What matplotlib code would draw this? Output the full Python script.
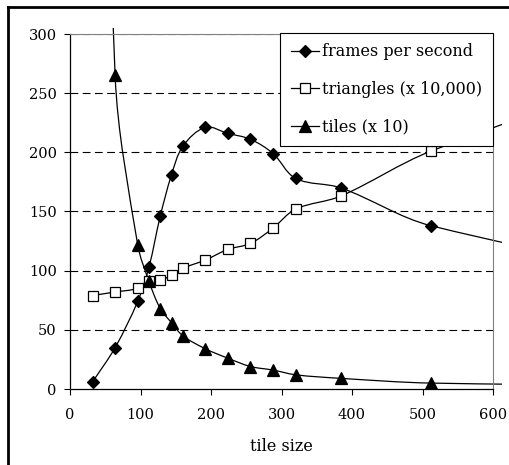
import numpy as np
import matplotlib.pyplot as plt
from matplotlib.path import Path
from matplotlib.patches import PathPatch, Rectangle
from matplotlib.lines import Line2D

# data (points past the visible range only shape the smoothed lines)
tile_size = [32, 64, 96, 112, 128, 144, 160, 192, 224, 256, 288, 320, 384, 512, 1024]
fps = [6, 35, 74, 103, 146, 181, 205, 221, 216, 211, 199, 178, 170, 138, 75]
triangles = [79, 82, 85, 91, 92, 96, 102, 109, 118, 123, 136, 152, 163, 201, 310]
tiles = [1060, 265, 122, 91, 68, 56, 45, 34, 26, 19, 16, 12, 9, 5, 2]

x_ticks = [0, 100, 200, 300, 400, 500, 600]
y_ticks = [0, 50, 100, 150, 200, 250, 300]

plt.rcParams['font.family'] = 'DejaVu Serif'
plt.rcParams['font.size'] = 10

# pixels per data unit, used so the smoothing works in screen space
SX, SY = 423 / 600, 355 / 300


def smooth_path(xs, ys):
    # smoothed line: cubic bezier through every point, tangent from the neighbours
    p = np.column_stack([np.array(xs) * SX, np.array(ys) * SY]).astype(float)
    n = len(p)
    tang = []
    for i in range(n):
        d = p[min(i + 1, n - 1)] - p[max(i - 1, 0)]
        tang.append(d / np.hypot(*d))
    verts = [tuple(p[0])]
    codes = [Path.MOVETO]
    for i in range(n - 1):
        seg = np.hypot(*(p[i + 1] - p[i]))
        c1 = p[i] + tang[i] * seg / 3
        c2 = p[i + 1] - tang[i + 1] * seg / 3
        verts += [tuple(c1), tuple(c2), tuple(p[i + 1])]
        codes += [Path.CURVE4] * 3
    verts = [(vx / SX, vy / SY) for vx, vy in verts]
    return Path(verts, codes)


fig = plt.figure(figsize=(5.1, 4.65), dpi=100)
ax = fig.add_axes([70 / 510, 76 / 465, 423 / 510, 355 / 465])
ax.set_xlim(0, 600)
ax.set_ylim(0, 300)

for y in y_ticks[1:]:
    ax.axhline(y, color='black', lw=0.8, dashes=(7, 4), zorder=1)

# lines run a few pixels past the plot area, as in the original
clip = Rectangle((0, -0.02), 1 + 9 / 423, 1.02 + 6 / 355, transform=ax.transAxes)

series = [
    (fps, 'D', 'black', 6.5, 'frames per second'),
    (triangles, 's', 'white', 7, 'triangles (x 10,000)'),
    (tiles, '^', 'black', 8, 'tiles (x 10)'),
]
handles = []
for vals, mk, fc, ms, label in series:
    patch = PathPatch(smooth_path(tile_size, vals), facecolor='none',
                      edgecolor='black', lw=0.9, zorder=2, clip_on=True)
    ax.add_patch(patch)
    patch.set_clip_path(clip)
    ax.plot(tile_size, vals, linestyle='none', marker=mk, ms=ms,
            mfc=fc, mec='black', mew=0.9, zorder=3)
    handles.append(Line2D([], [], color='black', lw=0.9, marker=mk, ms=ms,
                          mfc=fc, mec='black', mew=0.9, label=label))

leg = ax.legend(handles=handles, loc='upper right', bbox_to_anchor=(1.0, 1.003),
                borderaxespad=0, fancybox=False, edgecolor='black', framealpha=1,
                handlelength=1.75, handletextpad=0.25, labelspacing=1.3,
                borderpad=0.65, fontsize=11.5)
leg.get_frame().set_linewidth(0.8)
leg.set_zorder(5)

ax.set_xticks(x_ticks)
ax.set_yticks(y_ticks)
ax.tick_params(direction='out', length=4, width=0.8, colors='black', labelsize=10.5)
ax.tick_params(axis='x', pad=9.5)
ax.tick_params(axis='y', pad=5.5)
ax.set_xlabel('tile size', fontsize=11.5, labelpad=12)

for side in ['top', 'right']:
    ax.spines[side].set_color('#808080')
    ax.spines[side].set_linewidth(0.8)
for side in ['left', 'bottom']:
    ax.spines[side].set_color('black')
    ax.spines[side].set_linewidth(0.9)

# outer chart border (only top and left edges are visible in the picture)
fig.add_artist(Line2D([8 / 510, 8 / 510], [0, 1 - 7 / 465], color='black', lw=2,
                      transform=fig.transFigure))
fig.add_artist(Line2D([8 / 510, 1], [1 - 7 / 465, 1 - 7 / 465], color='black', lw=2,
                      transform=fig.transFigure))

plt.savefig('out.png', dpi=100)
